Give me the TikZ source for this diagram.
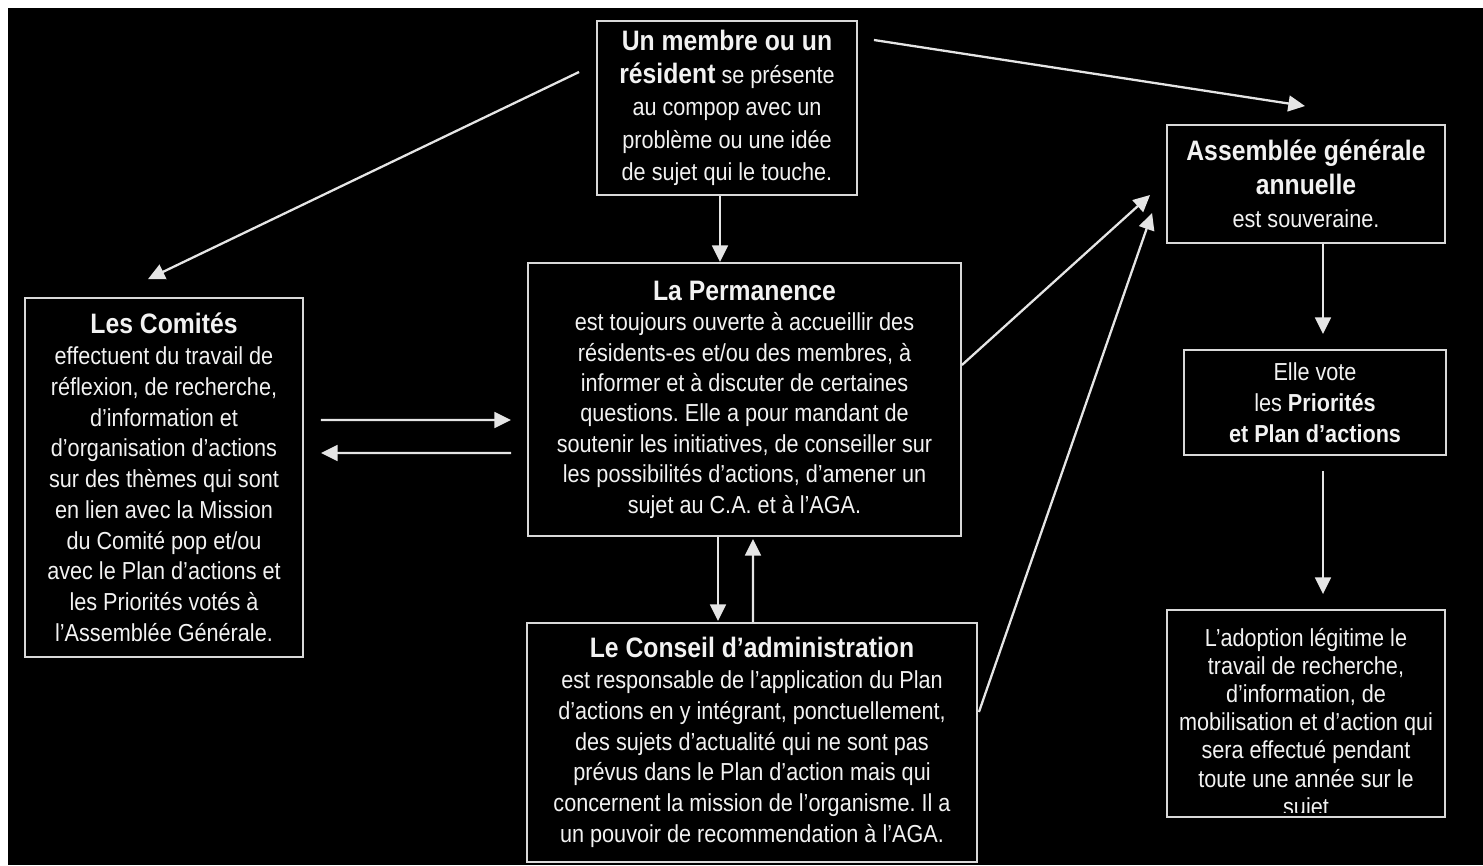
\documentclass[tikz,border=0pt]{standalone}
\usepackage{fontspec}
\setmainfont[FakeStretch=0.88]{Liberation Sans}
\usetikzlibrary{arrows.meta,calc}
\frenchspacing

\tikzset{
  box/.style={draw=white!85!black, line width=1.1pt, text=white!95!black, align=center, inner sep=0pt},
  arr/.style={draw=white!90!black, line width=1.3pt, -{Triangle[length=9.5pt,width=9pt]}},
}
\newcommand{\ttl}[1]{{\bfseries\fontsize{16pt}{18pt}\selectfont #1}}

\begin{document}
\begin{tikzpicture}[x=0.02cm, y=-0.02cm]
\useasboundingbox (0,0) rectangle (1483,865);
\fill[white] (0,0) rectangle (1483,865);
\fill[black] (8,8) rectangle (1483,865);

% les boites
\node[box, minimum width=5.2cm, minimum height=3.48cm, font=\fontsize{14pt}{18.5pt}\selectfont] (membre) at (727,108)
  {\ttl{Un membre ou un}\\ \ttl{résident} se présente\\ au compop avec un\\ problème ou une idée\\ de sujet qui le touche.};

\node[box, minimum width=8.66cm, minimum height=5.46cm, font=\fontsize{14pt}{17.3pt}\selectfont] (perm) at (744.5,399.5)
  {\ttl{La Permanence}\\ est toujours ouverte à accueillir des\\ résidents-es et/ou des membres, à\\ informer et à discuter de certaines\\ questions. Elle a pour mandant de\\ soutenir les initiatives, de conseiller sur\\ les possibilités d’actions, d’amener un\\ sujet au C.A. et à l’AGA.};

\node[box, minimum width=5.56cm, minimum height=7.18cm, font=\fontsize{14pt}{17.5pt}\selectfont] (comites) at (164,477.5)
  {\ttl{Les Comités}\\ effectuent du travail de\\ réflexion, de recherche,\\ d’information et\\ d’organisation d’actions\\ sur des thèmes qui sont\\ en lien avec la Mission\\ du Comité pop et/ou\\ avec le Plan d’actions et\\ les Priorités votés à\\ l’Assemblée Générale.};

\node[box, minimum width=9cm, minimum height=4.78cm, font=\fontsize{14pt}{17.5pt}\selectfont] (conseil) at (752,742.5)
  {\ttl{Le Conseil d’administration}\\ est responsable de l’application du Plan\\ d’actions en y intégrant, ponctuellement,\\ des sujets d’actualité qui ne sont pas\\ prévus dans le Plan d’action mais qui\\ concernent la mission de l’organisme. Il a\\ un pouvoir de recommendation à l’AGA.};

\node[box, minimum width=5.56cm, minimum height=2.36cm, font=\fontsize{14pt}{19pt}\selectfont] (aga) at (1306,184)
  {\ttl{Assemblée générale}\\ \ttl{annuelle}\\ est souveraine.};

\node[box, minimum width=5.24cm, minimum height=2.1cm, font=\fontsize{14pt}{17.5pt}\selectfont] (vote) at (1315,402.5)
  {Elle vote\\ les {\bfseries Priorités}\\ {\bfseries et Plan d’actions}};

\node[box, minimum width=5.56cm, minimum height=4.14cm] (adoption) at (1306,713.5) {};
\begin{scope}
\clip ($(adoption.north west)+(3,3)$) rectangle ($(adoption.south east)+(-3,-5)$);
\node[anchor=north, text=white!95!black, align=center, inner sep=0pt, font=\fontsize{14pt}{16pt}\selectfont] (adoptxt) at (1306,628)
  {L’adoption légitime le\\ travail de recherche,\\ d’information, de\\ mobilisation et d’action qui\\ sera effectué pendant\\ toute une année sur le\\ sujet};
\end{scope}

% les fleches
\draw[arr] ($(membre.south)+(-7,0)$) -- ($(perm.north)+(-24.5,0)$);
\draw[arr] ($(membre.west)+(-17,-36)$) -- ($(comites.north)+(-16,-18)$);
\draw[arr] ($(membre.east)+(16,-68)$) -- ($(aga.north)+(-1,-18)$);
\draw[arr] ($(comites.east)+(17,-57.5)$) -- ($(perm.west)+(-16,20.5)$);
\draw[arr] ($(perm.west)+(-16,53.5)$) -- ($(comites.east)+(17,-24.5)$);
\draw[arr] ($(perm.south)+(-26.5,0)$) -- ($(conseil.north)+(-34,-1)$);
\draw[arr] ($(conseil.north)+(1,0)$) -- ($(perm.south)+(8.5,2)$);
\draw[arr] ($(perm.east)+(0,-34.5)$) -- ($(aga.west)+(-16,11)$);
\draw[arr] ($(conseil.east)+(1,-30.5)$) -- ($(aga.west)+(-14,29)$);
\draw[arr] ($(aga.south)+(17,0)$) -- ($(vote.north)+(8,-15)$);
\draw[arr] ($(vote.south)+(8,15)$) -- ($(adoption.north)+(17,-15)$);
\end{tikzpicture}
\end{document}
